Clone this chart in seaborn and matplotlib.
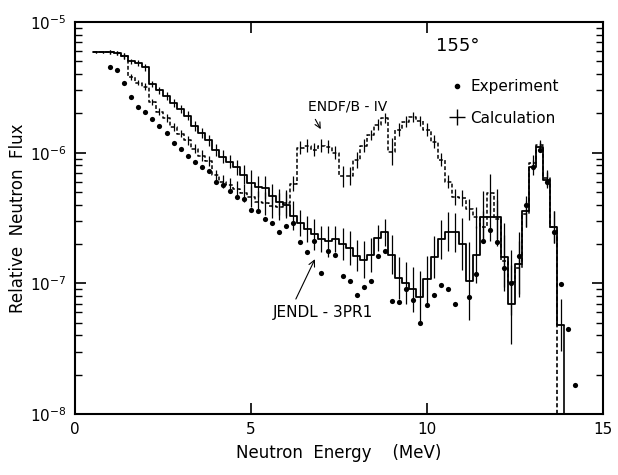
import numpy as np
import pandas as pd
import matplotlib
matplotlib.use('Agg')
import matplotlib.pyplot as plt
from matplotlib.lines import Line2D
import seaborn as sns

# Calculated spectra at 155 deg, 0.2 MeV bins starting at 0.5 MeV, flux in units of 1e-7
bin_width = 0.2
first_edge = 0.5

jendl_flux = [59, 59, 58.5, 58, 55, 50, 48.5, 45,
              33.6, 30, 27, 24, 21.7, 19.2, 16, 14.2, 12.4, 10.5,
              9.3, 8.5, 7.7, 6.8, 5.9, 5.5, 5.4, 4.7, 4.2, 4.0,
              3.3, 2.9, 2.6, 2.37, 2.17, 2.1, 2.17, 2.0, 1.88, 1.63,
              1.52, 1.66, 2.24, 2.45, 1.66, 1.1, 1.0, 0.9, 0.79, 1.07,
              1.6, 2.17, 2.49, 2.45, 2.0, 1.04, 1.66, 3.2, 3.2, 3.2,
              1.58, 0.69, 1.4, 3.55, 7.7, 11, 6.2, 2.7, 0.48]

endf_flux = [59, 59, 58.5, 58, 55, 38, 34.3, 32,
             24.5, 20.6, 18.5, 15.8, 14, 12.4, 10.7, 9.5, 8.6, 6.7,
             6.0, 5.7, 5.3, 4.9, 4.6, 4.2, 4.1, 3.9, 3.87, 4.15,
             5.8, 10.9, 11.3, 10.5, 11.3, 11.1, 10.0, 6.6, 6.6, 8.8,
             11.3, 13.7, 16.4, 18.5, 10.2, 15, 17.3, 18.8, 17.5, 15,
             12.1, 8.8, 6.0, 4.6, 4.5, 3.7, 3.2, 2.7, 4.9, 3.1,
             1.48, 1.02, 1.32, 3.4, 8.4, 11.5, 6.4, 2.7]

# half length of the calculation error bars, in decades
jendl_err_dex = [0.01, 0.01, 0.015, 0.015, 0.02,
                 0.02, 0.02, 0.025, 0.025, 0.025,
                 0.03, 0.03, 0.03, 0.035, 0.035,
                 0.04, 0.04, 0.045, 0.05, 0.05,
                 0.06, 0.07, 0.1, 0.08, 0.09,
                 0.09, 0.1, 0.1, 0.11, 0.1,
                 0.1, 0.12, 0.1, 0.12, 0.1,
                 0.12, 0.13, 0.12, 0.14, 0.13,
                 0.1, 0.1, 0.15, 0.16, 0.16,
                 0.17, 0.2, 0.18, 0.16, 0.15,
                 0.15, 0.15, 0.2, 0.3, 0.22,
                 0.2, 0.18, 0.22, 0.26, 0.3,
                 0.25, 0.12, 0.06, 0.04, 0.06,
                 0.12, 0.2]

endf_err_dex = [0.01, 0.01, 0.015, 0.015, 0.02,
                0.02, 0.02, 0.025, 0.025, 0.025,
                0.03, 0.03, 0.03, 0.035, 0.035,
                0.04, 0.04, 0.045, 0.05, 0.05,
                0.06, 0.07, 0.08, 0.08, 0.09,
                0.09, 0.1, 0.1, 0.06, 0.05,
                0.05, 0.05, 0.05, 0.05, 0.05,
                0.08, 0.07, 0.06, 0.05, 0.04,
                0.04, 0.04, 0.1, 0.05, 0.04,
                0.04, 0.04, 0.05, 0.05, 0.05,
                0.05, 0.06, 0.06, 0.08, 0.08,
                0.12, 0.15, 0.15, 0.2, 0.25,
                0.2, 0.1, 0.06, 0.04, 0.06,
                0.12]

# experiment, points every 0.2 MeV from 1.0 MeV (units of 1e-7)
exp_start = 1.0
exp_flux = [45.3, 43, 34.2, 26.7, 22.4, 20.6, 18.2, 16.1, 14.2, 11.9,
            10.7, 9.5, 8.5, 7.8, 7.2, 6.0, 5.7, 5.1, 4.6, 4.4,
            3.67, 3.55, 3.13, 2.92, 2.49, 2.77, 2.92, 2.06, 1.75, 2.1,
            1.21, 1.78, 1.66, 1.13, 1.05, 0.82, 0.93, 1.04, 1.61, 1.78,
            0.73, 0.72, 0.9, 0.74, 0.495, 0.68, 0.81, 0.97, 0.9, 0.69,
            np.nan, 0.78, 1.17, 2.1, 2.58, 2.06, 1.3, 1.0, 1.61, 4.0,
            7.8, 10.5, 6.0, 2.49, 0.98, 0.445, 0.166]

sns.set_style('ticks', {'axes.edgecolor': 'k', 'xtick.color': 'k',
                        'ytick.color': 'k', 'text.color': 'k',
                        'axes.labelcolor': 'k'})
plt.rcParams['font.family'] = ['DejaVu Sans']

fig = plt.figure(figsize=(6.18, 4.75), dpi=100)
ax = fig.add_axes([0.1214, 0.1284, 0.8543, 0.8253])


def step_frame(vals):
    vals = np.array(vals) * 1e-7
    edges = np.round(first_edge + bin_width * np.arange(len(vals) + 1), 2)
    df = pd.DataFrame({'energy': edges, 'flux': np.append(vals, vals[-1])})
    return df, edges, vals


bottom = 1e-8
for flux, errs, ls in [(endf_flux, endf_err_dex, 'dashed'),
                       (jendl_flux, jendl_err_dex, 'solid')]:
    df, edges, vals = step_frame(flux)
    sns.lineplot(data=df, x='energy', y='flux', drawstyle='steps-post',
                 color='k', lw=1.1 if ls == 'dashed' else 1.3,
                 estimator=None, ax=ax)
    line = ax.lines[-1]
    if ls == 'dashed':
        line.set_dashes([2.5, 1.5])
    ax.vlines(edges[-1], bottom, vals[-1], color='k', lw=1.2,
              linestyles=ls if ls == 'solid' else (0, (2.5, 1.5)))
    centers = edges[:-1] + bin_width / 2
    err = np.array(errs)
    ax.errorbar(centers, vals, yerr=[vals - vals * 10 ** -err, vals * 10 ** err - vals],
                fmt='none', ecolor='k', elinewidth=0.9, capsize=0)

exp_df = pd.DataFrame({'energy': np.round(exp_start + 0.2 * np.arange(len(exp_flux)), 1),
                       'flux': np.array(exp_flux) * 1e-7})
sns.scatterplot(data=exp_df, x='energy', y='flux', color='k', s=14,
                edgecolor='k', linewidth=0, ax=ax, zorder=5)

ax.set_yscale('log')
ax.set_xlim(0, 15)
ax.set_ylim(bottom, 1e-5)
ax.set_xticks([0, 5, 10, 15])
ax.tick_params(axis='both', which='major', direction='in', length=8, width=1.2,
               top=True, right=True, labelsize=11, pad=6)
ax.tick_params(axis='y', which='minor', direction='in', length=5, width=1,
               right=True)
for s in ax.spines.values():
    s.set_linewidth(1.5)

ax.set_xlabel('Neutron  Energy    (MeV)', fontsize=12, labelpad=5)
ax.set_ylabel('Relative  Neutron  Flux', fontsize=12, labelpad=2)

ax.text(0.725, 0.94, '155°', transform=ax.transAxes, fontsize=13,
        ha='center', va='center')
handles = [Line2D([], [], color='k', marker='o', ls='none', markersize=3),
           Line2D([], [], color='k', marker='+', ls='none', markersize=11, mew=1)]
ax.legend(handles, ['Experiment', 'Calculation'], loc='upper left',
          bbox_to_anchor=(0.685, 0.89), frameon=False, fontsize=11,
          handlelength=0.8, handletextpad=0.5, labelspacing=1.1)

ax.annotate('ENDF/B - IV', xy=(7.02, 1.45e-6), xytext=(7.75, 2.25e-6),
            fontsize=10, ha='center', va='center',
            arrowprops=dict(arrowstyle='->', color='k', lw=0.8,
                            relpos=(0.05, 0.0)))
ax.annotate('JENDL - 3PR1', xy=(6.85, 1.6e-7), xytext=(7.05, 6.0e-8),
            fontsize=11, ha='center', va='center',
            arrowprops=dict(arrowstyle='->', color='k', lw=0.8,
                            relpos=(0.2, 1.0)))

fig.savefig('out.png', dpi=100)
